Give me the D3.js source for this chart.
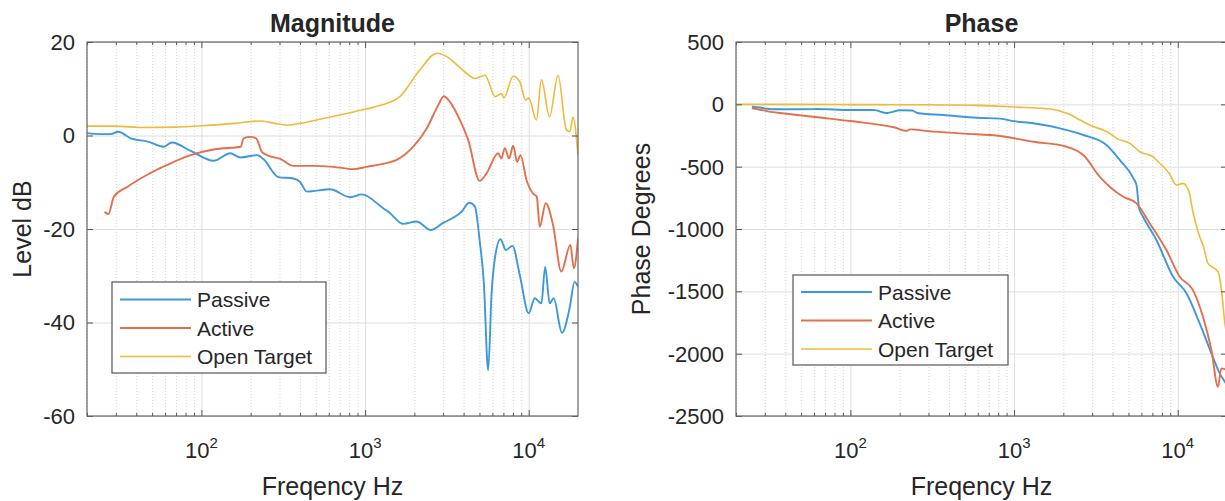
<!DOCTYPE html>
<html>
<head>
<meta charset="utf-8">
<script src="https://cdn.jsdelivr.net/npm/d3@7/dist/d3.min.js"></script>
<style>
  html, body { margin: 0; padding: 0; background: #fff; }
  svg { display: block; }
  text { font-family: "Liberation Sans", Arial, Helvetica, sans-serif; fill: #262626; }
</style>
</head>
<body>
<svg id="chart" width="1225" height="501"></svg>
<script>
// ---------------- DATA ----------------
const seriesNames = ["Passive", "Active", "Open Target"];
const titles = ["Magnitude", "Phase"];
const yLabels = ["Level dB", "Phase Degrees"];
const xLabel = "Freqency Hz";
const freqDomain = [20, 20000];
const majorFreqTicks = [100, 1000, 10000];
const minorFreqTicks = [20,30,40,50,60,70,80,90,200,300,400,500,600,700,800,900,2000,3000,4000,5000,6000,7000,8000,9000];
const magTicks = [20, 0, -20, -40, -60];
const phaseTicks = [500, 0, -500, -1000, -1500, -2000, -2500];

// Magnitude [Hz, dB]
const magPassive = [[20,0.5],[24,0.3],[28,0.3],[31,0.8],[37,-0.6],[47,-1.3],[59,-2.4],[66,-1.5],[86,-3.3],[119,-5.4],[150,-3.8],[173,-4.7],[219,-4.2],[240,-5.1],[296,-8.9],[365,-9.2],[400,-9.9],[441,-12.0],[612,-11.5],[811,-13.2],[955,-12.6],[1295,-15.6],[1400,-16.4],[1710,-18.9],[2065,-18.4],[2520,-20.2],[3000,-18.7],[3890,-16.3],[4330,-14.4],[4690,-15.2],[5010,-22.4],[5320,-31.6],[5650,-50.2],[5930,-33.8],[6210,-26.3],[6720,-22.2],[7250,-24.5],[7950,-23.6],[8810,-29.8],[10000,-38.0],[10880,-34.8],[11950,-35.9],[12600,-28.1],[13430,-35.9],[14200,-34.8],[15960,-42.2],[17780,-36.9],[19060,-31.3],[20000,-32.3]];
const magActive = [[25.6,-16.3],[27,-16.8],[29.2,-13.1],[35.2,-11.0],[46.7,-8.4],[61.7,-6.3],[85.8,-4.2],[119,-3.0],[165,-2.5],[174,-2.4],[181,-0.6],[199,-0.3],[216,-0.6],[234,-3.5],[251,-4.2],[303,-5.0],[365,-6.5],[484,-6.5],[641,-6.7],[851,-7.2],[1024,-6.7],[1387,-5.8],[1560,-5.2],[1970,-2.4],[2380,1.5],[2800,6.5],[3030,8.4],[3300,7.2],[3800,3.3],[4270,-1.0],[5010,-9.7],[5520,-8.1],[6500,-3.8],[6810,-4.9],[7140,-2.7],[7590,-4.9],[8030,-2.2],[8490,-5.6],[8910,-4.2],[9690,-9.5],[10630,-12.4],[11200,-13.1],[11670,-19.5],[12700,-14.5],[14070,-19.1],[15810,-29.1],[17960,-23.4],[18880,-28.4],[20000,-22.0]];
const magOpen = [[20,2.0],[30,2.0],[44,1.7],[70,1.8],[100,2.1],[160,2.6],[229,3.1],[280,2.6],[334,2.2],[400,2.6],[550,3.6],[773,4.7],[1000,5.6],[1230,6.4],[1630,8.3],[2160,14.0],[2750,17.6],[3150,16.9],[3980,13.9],[4700,12.2],[5400,12.9],[6250,8.3],[6810,9.0],[7040,8.0],[8040,12.7],[8820,11.5],[9560,7.6],[10000,8.0],[11140,3.3],[11950,11.9],[13400,4.0],[15100,12.9],[16980,1.2],[17800,0.8],[18630,3.9],[20000,-4.2]];

// Phase [Hz, degrees]
const phasePassive = [[25,-19],[28,-25],[31,-35],[35,-40],[63,-38],[100,-46],[139,-46],[167,-70],[202,-48],[238,-50],[260,-72],[371,-86],[593,-108],[822,-115],[1000,-135],[1310,-152],[1910,-193],[2650,-246],[3670,-326],[4430,-447],[5340,-590],[5600,-650],[5810,-834],[6140,-902],[7410,-1088],[9370,-1383],[11300,-1516],[13620,-1757],[16060,-1997],[18050,-2158],[20000,-2250]];
const phaseActive = [[25,-32],[30,-50],[32.5,-60],[36,-67],[63,-104],[100,-134],[184,-184],[222,-212],[232,-201],[300,-215],[500,-235],[822,-254],[1310,-300],[2095,-340],[2650,-407],[3340,-581],[4640,-741],[5600,-794],[6750,-955],[8530,-1169],[10280,-1383],[12390,-1490],[14260,-1704],[16060,-1971],[17620,-2265],[18440,-2118],[20000,-2131]];
const phaseOpen = [[20,0],[50,0],[100,-2],[200,-3],[400,-5],[600,-8],[1000,-22],[1660,-38],[2100,-72],[2650,-140],[2900,-166],[3850,-233],[4230,-273],[5100,-313],[5860,-380],[7070,-420],[7410,-447],[8930,-560],[9800,-647],[10770,-634],[11830,-720],[12100,-794],[13620,-1062],[14270,-1129],[15300,-1275],[17620,-1343],[18700,-1543],[19300,-1730],[20000,-1860]];

const colors = ["#3d98d9", "#e2704c", "#efba3a"];

// ---------------- DRAW ----------------
const svg = d3.select("#chart");
const FONT_TICK = 22, FONT_LABEL = 25, FONT_TITLE = 25, FONT_LEG = 21;

const panels = [
  { x0: 87, x1: 578, y0: 42, y1: 416, yDomain: [-60, 20], yTicks: magTicks, data: [magPassive, magActive, magOpen],
    title: titles[0], yLabel: yLabels[0], yLabelX: 22,
    legend: { x: 112, y: 282, w: 214, h: 91, rows: [299.5, 328, 356.5] } },
  { x0: 736, x1: 1227, y0: 42, y1: 416, yDomain: [-2500, 500], yTicks: phaseTicks, data: [phasePassive, phaseActive, phaseOpen],
    title: titles[1], yLabel: yLabels[1], yLabelX: 641,
    legend: { x: 793, y: 275, w: 215, h: 90, rows: [292, 320.5, 349] } }
];

panels.forEach((p, pi) => {
  const g = svg.append("g");
  const x = d3.scaleLog().domain(freqDomain).range([p.x0, p.x1]);
  const y = d3.scaleLinear().domain(p.yDomain).range([p.y1, p.y0]);
  const ph = p.y1 - p.y0, pw = p.x1 - p.x0;

  // minor x grid (dotted)
  g.append("g").attr("transform", `translate(0,${p.y1})`)
    .call(d3.axisBottom(x).tickValues(minorFreqTicks).tickSize(-ph).tickFormat(""))
    .call(s => s.select(".domain").remove())
    .call(s => s.selectAll("line").attr("stroke", "#c8c8c8").attr("stroke-width", 0.8).attr("stroke-dasharray", "1,2"));
  // major x grid
  g.append("g").attr("transform", `translate(0,${p.y1})`)
    .call(d3.axisBottom(x).tickValues(majorFreqTicks).tickSize(-ph).tickFormat(""))
    .call(s => s.select(".domain").remove())
    .call(s => s.selectAll("line").attr("stroke", "#dedede").attr("stroke-width", 1));
  // y grid
  g.append("g").attr("transform", `translate(${p.x0},0)`)
    .call(d3.axisLeft(y).tickValues(p.yTicks).tickSize(-pw).tickFormat(""))
    .call(s => s.select(".domain").remove())
    .call(s => s.selectAll("line").attr("stroke", "#dedede").attr("stroke-width", 1));

  // clip
  const cid = "clip" + pi;
  svg.append("clipPath").attr("id", cid).append("rect")
    .attr("x", p.x0).attr("y", p.y0).attr("width", pw).attr("height", ph);

  const line = d3.line().x(d => x(d[0])).y(d => y(d[1])).curve(d3.curveMonotoneX);
  const lg = g.append("g").attr("clip-path", `url(#${cid})`);
  p.data.forEach((ser, i) => {
    lg.append("path").datum(ser).attr("d", line)
      .attr("fill", "none").attr("stroke", colors[i])
      .attr("stroke-width", i === 2 ? 1.6 : 1.9).attr("stroke-linejoin", "round");
  });

  // ticks (inside) on all four sides
  const tickStyle = s => { s.select(".domain").remove(); s.selectAll("line").attr("stroke", "#555").attr("stroke-width", 1); };
  g.append("g").attr("transform", `translate(0,${p.y1})`).call(d3.axisBottom(x).tickValues(majorFreqTicks).tickSize(-6).tickFormat("")).call(tickStyle);
  g.append("g").attr("transform", `translate(0,${p.y1})`).call(d3.axisBottom(x).tickValues(minorFreqTicks).tickSize(-3).tickFormat("")).call(tickStyle);
  g.append("g").attr("transform", `translate(0,${p.y0})`).call(d3.axisTop(x).tickValues(majorFreqTicks).tickSize(-6).tickFormat("")).call(tickStyle);
  g.append("g").attr("transform", `translate(0,${p.y0})`).call(d3.axisTop(x).tickValues(minorFreqTicks).tickSize(-3).tickFormat("")).call(tickStyle);
  g.append("g").attr("transform", `translate(${p.x0},0)`).call(d3.axisLeft(y).tickValues(p.yTicks).tickSize(-6).tickFormat("")).call(tickStyle);
  g.append("g").attr("transform", `translate(${p.x1},0)`).call(d3.axisRight(y).tickValues(p.yTicks).tickSize(-6).tickFormat("")).call(tickStyle);

  // box
  g.append("rect").attr("x", p.x0).attr("y", p.y0).attr("width", pw).attr("height", ph)
    .attr("fill", "none").attr("stroke", "#666").attr("stroke-width", 1.2);

  // y tick labels
  p.yTicks.forEach(t => {
    g.append("text").attr("x", p.x0 - 12).attr("y", y(t)).attr("dy", "0.36em")
      .attr("text-anchor", "end").attr("font-size", FONT_TICK).text(t);
  });
  // x tick labels 10^n
  majorFreqTicks.forEach(f => {
    const t = g.append("text").attr("x", x(f)).attr("y", 458).attr("text-anchor", "middle").attr("font-size", FONT_TICK);
    t.append("tspan").text("10");
    t.append("tspan").attr("dy", -10).attr("font-size", 15).text(String(Math.round(Math.log10(f))));
  });

  // title
  g.append("text").attr("x", (p.x0 + p.x1) / 2).attr("y", 32).attr("text-anchor", "middle")
    .attr("font-size", FONT_TITLE).attr("font-weight", "bold").attr("fill", "#000").text(p.title);
  // x label
  g.append("text").attr("x", (p.x0 + p.x1) / 2).attr("y", 495).attr("text-anchor", "middle")
    .attr("font-size", FONT_LABEL).text(xLabel);
  // y label
  g.append("text").attr("transform", `translate(${p.yLabelX},${(p.y0 + p.y1) / 2}) rotate(-90)`)
    .attr("text-anchor", "middle").attr("dy", "0.36em").attr("font-size", FONT_LABEL).text(p.yLabel);

  // legend
  const L = p.legend;
  const lgd = g.append("g");
  lgd.append("rect").attr("x", L.x).attr("y", L.y).attr("width", L.w).attr("height", L.h)
    .attr("fill", "#fff").attr("stroke", "#555").attr("stroke-width", 1.2);
  seriesNames.forEach((n, i) => {
    lgd.append("line").attr("x1", L.x + 8).attr("x2", L.x + 79).attr("y1", L.rows[i]).attr("y2", L.rows[i])
      .attr("stroke", colors[i]).attr("stroke-width", i === 2 ? 1.4 : 2);
    lgd.append("text").attr("x", L.x + 85).attr("y", L.rows[i]).attr("dy", "0.36em")
      .attr("font-size", FONT_LEG).text(n);
  });
});
</script>
</body>
</html>
